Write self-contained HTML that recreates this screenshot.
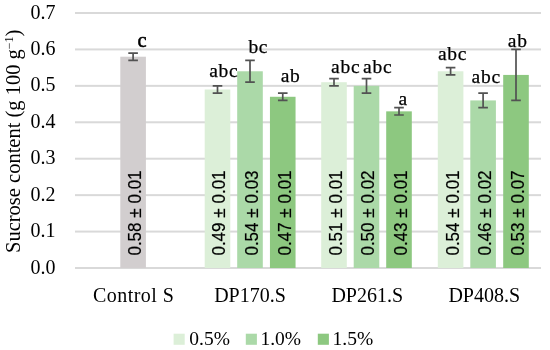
<!DOCTYPE html>
<html><head><meta charset="utf-8"><style>
html,body{margin:0;padding:0;background:#fff;}
svg{display:block;will-change:transform;}
text{font-family:"Liberation Serif",serif;fill:#000;}
.tick{font-size:20px;}
.cat{font-size:20px;}
.leg{font-size:19.5px;}
.let{font-size:19.5px;letter-spacing:0.7px;stroke:#000;stroke-width:0.25px;}
.let.b{font-size:20.5px;letter-spacing:0;stroke:#000;stroke-width:0.55px;}
.val{font-family:"Liberation Sans",sans-serif;font-size:18.5px;stroke:#000;stroke-width:0.2px;}
.ytitle{font-size:20.5px;}
.sup{font-size:12px;}
</style></head><body>
<svg width="550" height="350" viewBox="0 0 550 350">
<rect x="75" y="267.00" width="466" height="2" fill="#d9d9d9"/>
<rect x="75" y="230.57" width="466" height="2" fill="#d9d9d9"/>
<rect x="75" y="194.14" width="466" height="2" fill="#d9d9d9"/>
<rect x="75" y="157.71" width="466" height="2" fill="#d9d9d9"/>
<rect x="75" y="121.28" width="466" height="2" fill="#d9d9d9"/>
<rect x="75" y="84.85" width="466" height="2" fill="#d9d9d9"/>
<rect x="75" y="48.42" width="466" height="2" fill="#d9d9d9"/>
<rect x="75" y="11.99" width="466" height="2" fill="#d9d9d9"/>
<text x="55.5" y="273.60" text-anchor="end" class="tick">0.0</text>
<text x="55.5" y="237.17" text-anchor="end" class="tick">0.1</text>
<text x="55.5" y="200.74" text-anchor="end" class="tick">0.2</text>
<text x="55.5" y="164.31" text-anchor="end" class="tick">0.3</text>
<text x="55.5" y="127.88" text-anchor="end" class="tick">0.4</text>
<text x="55.5" y="91.45" text-anchor="end" class="tick">0.5</text>
<text x="55.5" y="55.02" text-anchor="end" class="tick">0.6</text>
<text x="55.5" y="18.59" text-anchor="end" class="tick">0.7</text>
<rect x="120.30" y="56.71" width="25.6" height="211.29" fill="#d2cecf"/>
<rect x="204.70" y="89.49" width="25.6" height="178.51" fill="#dcefd8"/>
<rect x="237.20" y="71.28" width="25.6" height="196.72" fill="#abd9a8"/>
<rect x="269.95" y="96.78" width="25.6" height="171.22" fill="#8dc880"/>
<rect x="321.20" y="82.21" width="25.6" height="185.79" fill="#dcefd8"/>
<rect x="353.70" y="85.85" width="25.6" height="182.15" fill="#abd9a8"/>
<rect x="386.20" y="111.35" width="25.6" height="156.65" fill="#8dc880"/>
<rect x="437.80" y="71.28" width="25.6" height="196.72" fill="#dcefd8"/>
<rect x="470.30" y="100.42" width="25.6" height="167.58" fill="#abd9a8"/>
<rect x="503.20" y="74.92" width="25.6" height="193.08" fill="#8dc880"/>
<text transform="translate(141.00,255.6) rotate(-90)" class="val" textLength="85.2" lengthAdjust="spacingAndGlyphs">0.58 ± 0.01</text>
<text transform="translate(225.40,255.6) rotate(-90)" class="val" textLength="85.2" lengthAdjust="spacingAndGlyphs">0.49 ± 0.01</text>
<text transform="translate(257.90,255.6) rotate(-90)" class="val" textLength="85.2" lengthAdjust="spacingAndGlyphs">0.54 ± 0.03</text>
<text transform="translate(290.65,255.6) rotate(-90)" class="val" textLength="85.2" lengthAdjust="spacingAndGlyphs">0.47 ± 0.01</text>
<text transform="translate(341.90,255.6) rotate(-90)" class="val" textLength="85.2" lengthAdjust="spacingAndGlyphs">0.51 ± 0.01</text>
<text transform="translate(374.40,255.6) rotate(-90)" class="val" textLength="85.2" lengthAdjust="spacingAndGlyphs">0.50 ± 0.02</text>
<text transform="translate(406.90,255.6) rotate(-90)" class="val" textLength="85.2" lengthAdjust="spacingAndGlyphs">0.43 ± 0.01</text>
<text transform="translate(458.50,255.6) rotate(-90)" class="val" textLength="85.2" lengthAdjust="spacingAndGlyphs">0.54 ± 0.01</text>
<text transform="translate(491.00,255.6) rotate(-90)" class="val" textLength="85.2" lengthAdjust="spacingAndGlyphs">0.46 ± 0.02</text>
<text transform="translate(523.90,255.6) rotate(-90)" class="val" textLength="85.2" lengthAdjust="spacingAndGlyphs">0.53 ± 0.07</text>
<path d="M133.10 53.06V60.35M128.30 53.06H137.90M128.30 60.35H137.90" stroke="#525252" stroke-width="1.7" fill="none"/>
<path d="M217.50 85.85V93.14M212.70 85.85H222.30M212.70 93.14H222.30" stroke="#525252" stroke-width="1.7" fill="none"/>
<path d="M250.00 60.35V82.21M245.20 60.35H254.80M245.20 82.21H254.80" stroke="#525252" stroke-width="1.7" fill="none"/>
<path d="M282.75 93.14V100.42M277.95 93.14H287.55M277.95 100.42H287.55" stroke="#525252" stroke-width="1.7" fill="none"/>
<path d="M334.00 78.56V85.85M329.20 78.56H338.80M329.20 85.85H338.80" stroke="#525252" stroke-width="1.7" fill="none"/>
<path d="M366.50 78.56V93.14M361.70 78.56H371.30M361.70 93.14H371.30" stroke="#525252" stroke-width="1.7" fill="none"/>
<path d="M399.00 107.71V114.99M394.20 107.71H403.80M394.20 114.99H403.80" stroke="#525252" stroke-width="1.7" fill="none"/>
<path d="M450.60 67.63V74.92M445.80 67.63H455.40M445.80 74.92H455.40" stroke="#525252" stroke-width="1.7" fill="none"/>
<path d="M483.10 93.14V107.71M478.30 93.14H487.90M478.30 107.71H487.90" stroke="#525252" stroke-width="1.7" fill="none"/>
<path d="M516.00 49.42V100.42M511.20 49.42H520.80M511.20 100.42H520.80" stroke="#525252" stroke-width="1.7" fill="none"/>
<text x="137.50" y="46.50" class="let b">c</text>
<text x="209.20" y="77.30" class="let">abc</text>
<text x="248.40" y="53.40" class="let">bc</text>
<text x="280.70" y="81.70" class="let">ab</text>
<text x="331.10" y="72.50" class="let">abc</text>
<text x="363.10" y="73.30" class="let">abc</text>
<text x="398.50" y="104.50" class="let">a</text>
<text x="438.00" y="59.50" class="let">abc</text>
<text x="471.60" y="82.60" class="let">abc</text>
<text x="507.80" y="46.60" class="let">ab</text>
<text x="133.60" y="301.6" text-anchor="middle" class="cat" style="letter-spacing:0.45px">Control S</text>
<text x="250.00" y="301.6" text-anchor="middle" class="cat" style="letter-spacing:0px">DP170.S</text>
<text x="367.25" y="301.6" text-anchor="middle" class="cat" style="letter-spacing:0px">DP261.S</text>
<text x="484.25" y="301.6" text-anchor="middle" class="cat" style="letter-spacing:0px">DP408.S</text>
<rect x="173.6" y="333.7" width="11.1" height="11.1" fill="#dcefd8"/>
<text x="189.3" y="344.5" class="leg">0.5%</text>
<rect x="245.8" y="333.7" width="11.1" height="11.1" fill="#abd9a8"/>
<text x="260.4" y="344.5" class="leg">1.0%</text>
<rect x="317.8" y="333.7" width="11.1" height="11.1" fill="#8dc880"/>
<text x="332.5" y="344.5" class="leg">1.5%</text>
<text transform="translate(20,253) rotate(-90)" class="ytitle">Sucrose content (g 100 g<tspan dy="-7" class="sup">−1</tspan><tspan dy="7">)</tspan></text>
</svg>
</body></html>
